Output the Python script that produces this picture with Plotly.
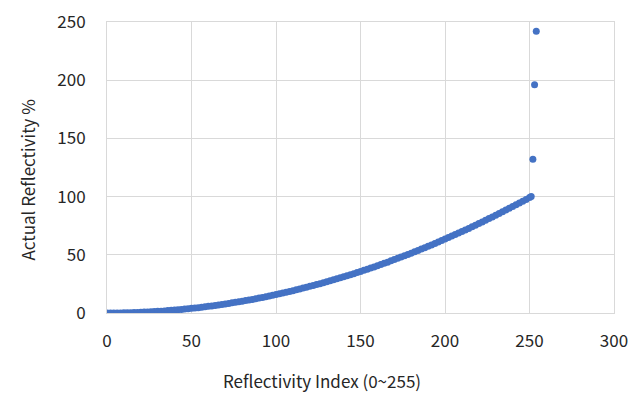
import plotly.graph_objects as go

# Reflectivity index (curve part)
index_curve = [0, 2, 4, 6, 8, 10, 12, 14, 16, 18, 20, 22, 24, 26, 28, 30, 32, 34, 36, 38,
               40, 42, 44, 46, 48, 50, 52, 54, 56, 58, 60, 62, 64, 66, 68, 70, 72, 74, 76, 78,
               80, 82, 84, 86, 88, 90, 92, 94, 96, 98, 100, 102, 104, 106, 108, 110, 112, 114, 116, 118,
               120, 122, 124, 126, 128, 130, 132, 134, 136, 138, 140, 142, 144, 146, 148, 150, 152, 154, 156, 158,
               160, 162, 164, 166, 168, 170, 172, 174, 176, 178, 180, 182, 184, 186, 188, 190, 192, 194, 196, 198,
               200, 202, 204, 206, 208, 210, 212, 214, 216, 218, 220, 222, 224, 226, 228, 230, 232, 234, 236, 238,
               240, 242, 244, 246, 248, 250, 251]
reflect_curve = [0.0, 0.0, 0.0, 0.1, 0.1, 0.2, 0.2, 0.3, 0.4, 0.5, 0.6, 0.8, 0.9, 1.1, 1.2, 1.4, 1.6, 1.8, 2.1, 2.3,
                 2.5, 2.8, 3.1, 3.4, 3.7, 4.0, 4.3, 4.6, 5.0, 5.3, 5.7, 6.1, 6.5, 6.9, 7.3, 7.8, 8.2, 8.7, 9.2, 9.7,
                 10.2, 10.7, 11.2, 11.7, 12.3, 12.9, 13.4, 14.0, 14.6, 15.2, 15.9, 16.5, 17.2, 17.8, 18.5, 19.2, 19.9, 20.6, 21.4, 22.1,
                 22.9, 23.6, 24.4, 25.2, 26.0, 26.8, 27.7, 28.5, 29.4, 30.2, 31.1, 32.0, 32.9, 33.8, 34.8, 35.7, 36.7, 37.6, 38.6, 39.6,
                 40.6, 41.7, 42.7, 43.7, 44.8, 45.9, 47.0, 48.1, 49.2, 50.3, 51.4, 52.6, 53.7, 54.9, 56.1, 57.3, 58.5, 59.7, 61.0, 62.2,
                 63.5, 64.8, 66.1, 67.4, 68.7, 70.0, 71.3, 72.7, 74.1, 75.4, 76.8, 78.2, 79.6, 81.1, 82.5, 84.0, 85.4, 86.9, 88.4, 89.9,
                 91.4, 93.0, 94.5, 96.1, 97.6, 99.2, 100.0]
# Outlier points at the end of the table
index_out = [252, 253, 254]
reflect_out = [132, 196, 242]

x_ticks = [0, 50, 100, 150, 200, 250, 300]
y_ticks = [0, 50, 100, 150, 200, 250]

FONT = "Noto Sans CJK JP, Noto Sans, sans-serif"
BLUE = "#4472C4"
GRID = "#d9d9d9"
FS = 17

fig = go.Figure()
fig.add_trace(go.Scatter(x=index_curve + index_out, y=reflect_curve + reflect_out,
                         mode="markers",
                         marker=dict(color=BLUE, size=7, line=dict(width=0)),
                         showlegend=False))

fig.update_layout(
    width=635, height=406,
    margin=dict(l=107, r=21, t=22, b=93, autoexpand=False),
    paper_bgcolor="white", plot_bgcolor="white",
    font=dict(family=FONT, size=FS, color="#262626"),
    xaxis=dict(range=[0, 300], tickvals=x_ticks, showgrid=True, gridcolor=GRID, gridwidth=1,
               zeroline=False, showline=True, linecolor=GRID, mirror=True,
               ticks="", ticklabelstandoff=13, fixedrange=True, automargin=False),
    yaxis=dict(range=[0, 250], tickvals=y_ticks, showgrid=True, gridcolor=GRID, gridwidth=1,
               zeroline=False, showline=True, linecolor=GRID, mirror=True,
               ticks="", ticklabelstandoff=17, fixedrange=True, automargin=False),
    annotations=[
        dict(text="Reflectivity Index (0~255)", xref="paper", yref="paper",
             x=(322 - 107) / 507, y=-(380 - 313) / 291, showarrow=False,
             xanchor="center", yanchor="middle", font=dict(size=FS)),
        dict(text="Actual Reflectivity %", xref="paper", yref="paper",
             x=-(107 - 27) / 507, y=(313 - 180.5) / 291, showarrow=False, textangle=-90,
             xanchor="center", yanchor="middle", font=dict(size=FS)),
    ],
)

fig.write_html("out.html", config={"displayModeBar": False},
               post_script="document.body.style.margin='0px';")
